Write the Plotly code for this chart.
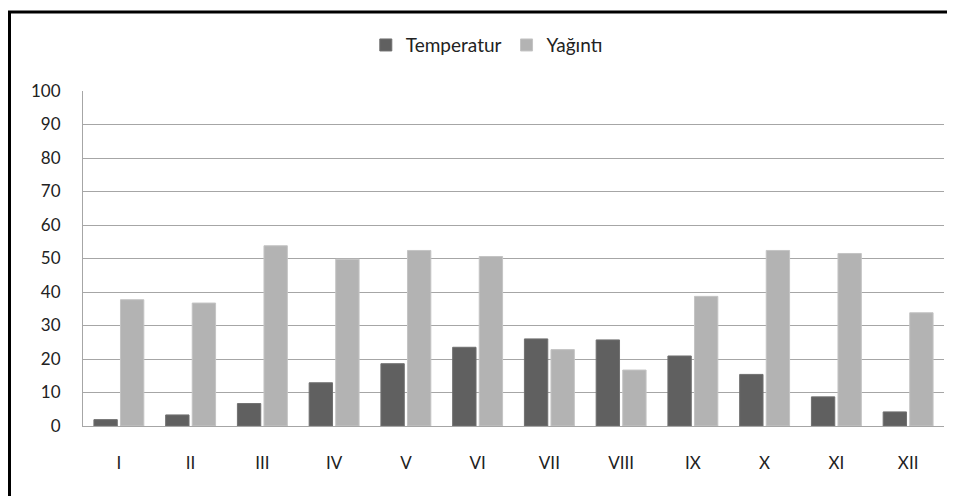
import plotly.graph_objects as go

months = ["I", "II", "III", "IV", "V", "VI", "VII", "VIII", "IX", "X", "XI", "XII"]
temperatur = [1.9, 3.3, 6.7, 12.9, 18.6, 23.5, 26.0, 25.7, 20.9, 15.4, 8.7, 4.2]
yagnti = [37.7, 36.7, 53.8, 49.8, 52.4, 50.6, 22.8, 16.7, 38.7, 52.4, 51.5, 33.8]
y_ticks = [0, 10, 20, 30, 40, 50, 60, 70, 80, 90, 100]

FONT = "Lato, Calibri, Carlito, sans-serif"

# The page body has an 8px margin, so the figure is offset by (8, 8) in the window.
W, H = 947, 488
ML, MT, MR, MB = 75, 83, 11, 70
PW, PH = W - ML - MR, H - MT - MB

fig = go.Figure()
fig.add_trace(go.Bar(
    x=months, y=temperatur, name="Temperatur",
    marker=dict(color="#606060", line=dict(color="#707070", width=1)),
))
fig.add_trace(go.Bar(
    x=months, y=yagnti, name="Yağıntı",
    marker=dict(color="#b3b3b3", line=dict(color="#c4c4c4", width=1)),
))

fig.update_layout(
    width=W, height=H,
    margin=dict(l=ML, r=MR, t=MT, b=MB),
    paper_bgcolor="white", plot_bgcolor="white",
    barmode="group", bargap=0.26, bargroupgap=0.12,
    font=dict(family=FONT, size=17, color="#222222"),
    legend=dict(orientation="h", x=0.469, xanchor="center", y=1.137, yanchor="middle",
                font=dict(size=19), itemwidth=30, traceorder="normal"),
    showlegend=True,
    xaxis=dict(showgrid=False, showline=True, linecolor="#a6a6a6", linewidth=1,
               ticks="", ticklabelstandoff=22, tickfont=dict(size=17)),
    yaxis=dict(range=[0, 100], tickvals=y_ticks, showgrid=True, gridcolor="#a6a6a6",
               gridwidth=1, showline=True, linecolor="#a6a6a6", linewidth=1,
               zeroline=False, ticks="", ticklabelstandoff=18, tickfont=dict(size=17)),
    shapes=[dict(type="rect", xref="paper", yref="paper",
                 x0=(1.5 - ML) / PW, x1=(W + 20 - ML) / PW,
                 y0=(MT + PH - (H + 20)) / PH, y1=(MT + PH - 4) / PH,
                 line=dict(color="black", width=3), fillcolor="rgba(0,0,0,0)", layer="below")],
)

fig.write_html("out.html")
